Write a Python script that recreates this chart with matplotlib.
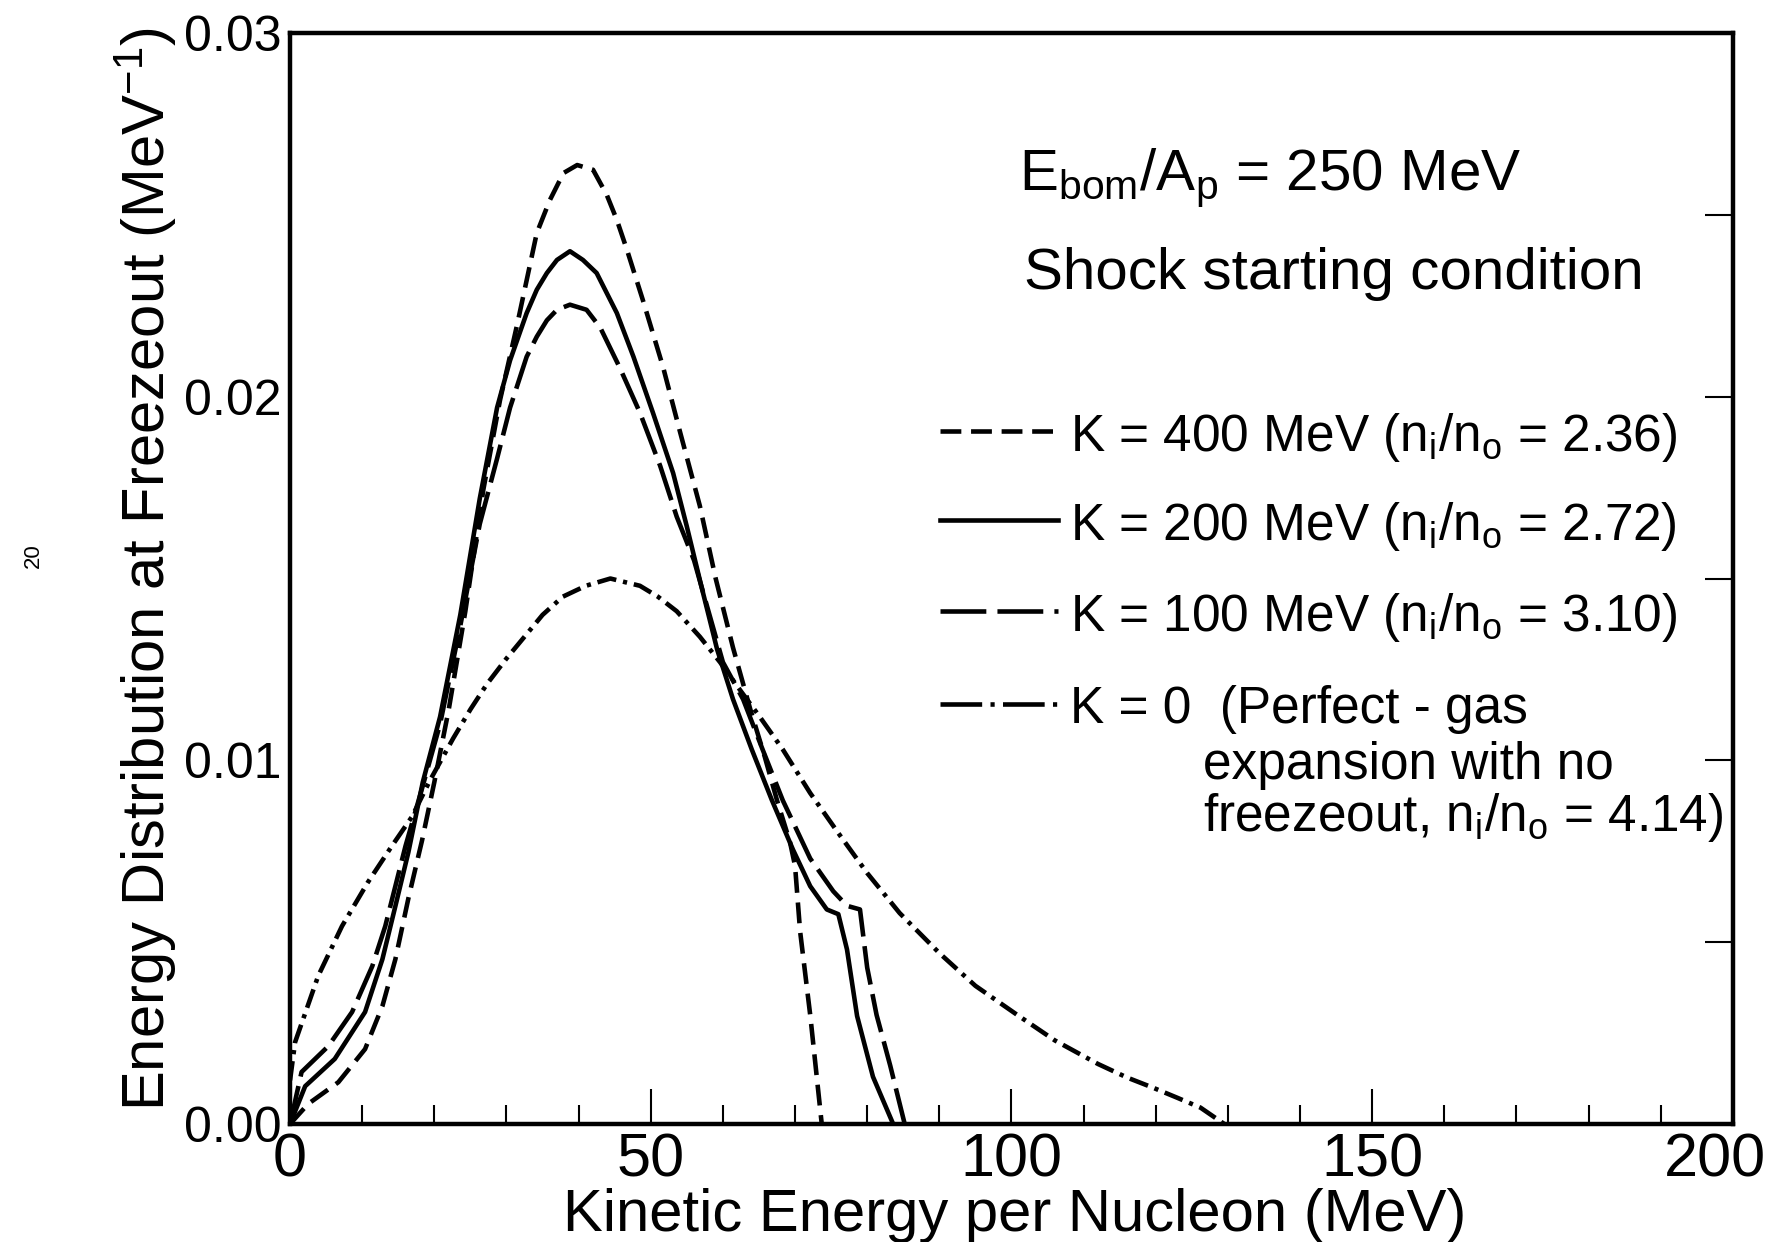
import matplotlib
matplotlib.use("Agg")
import matplotlib.pyplot as plt
from matplotlib.ticker import MultipleLocator, FormatStrFormatter
from matplotlib.transforms import ScaledTranslation

plt.rcParams['font.family'] = ['Liberation Sans', 'DejaVu Sans']
plt.rcParams['mathtext.default'] = 'regular'
plt.rcParams['lines.scale_dashes'] = False

# --- K = 400 MeV (short dashes) ---
x_k400 = [0, 2.5, 6.7, 10.4, 12.8, 14.6, 16.4, 18.3, 20.0, 22.0, 24.3, 26.8, 29.1, 31.5,
          34.2, 36.0, 37.9, 39.8, 42.0, 43.9, 45.3, 46.7, 48.9, 51.7, 54.1, 56.8, 59.0,
          61.4, 63.8, 65.8, 67.5, 69.3, 70.0, 70.7, 72.1, 73.7]
y_k400 = [0, 0.00055, 0.00115, 0.00206, 0.00324, 0.00453, 0.0062, 0.0078, 0.0094, 0.0114,
          0.0141, 0.01745, 0.0199, 0.0220, 0.0245, 0.0254, 0.02615, 0.02637, 0.02624,
          0.02555, 0.02486, 0.02404, 0.02266, 0.02082, 0.0190, 0.0170, 0.0150, 0.0131,
          0.0114, 0.0101, 0.0089, 0.00775, 0.0071, 0.0053, 0.0030, 0.0]

# --- K = 200 MeV (solid) ---
x_k200 = [0, 2.1, 6.2, 10.4, 12.8, 14.6, 16.4, 18.4, 20.8, 23.6, 26.3, 28.7, 30.5, 32.8,
          34.2, 35.6, 37.0, 38.8, 40.6, 42.5, 45.3, 47.6, 50.3, 53.1, 55.0, 57.0, 59.2,
          61.4, 64.0, 66.8, 69.7, 72.1, 74.4, 76.0, 77.2, 78.6, 80.8, 83.6]
y_k200 = [0, 0.00104, 0.00179, 0.00308, 0.00453, 0.00599, 0.00747, 0.0094, 0.0112, 0.0140,
          0.0172, 0.0197, 0.0210, 0.0223, 0.02294, 0.0234, 0.02376, 0.0240, 0.02376,
          0.0234, 0.0223, 0.0211, 0.01956, 0.0179, 0.01643, 0.0148, 0.01305, 0.01168,
          0.0103, 0.0089, 0.00755, 0.00654, 0.0059, 0.00577, 0.0048, 0.00297, 0.0013, 0.0]

# --- K = 100 MeV (long dashes) ---
x_k100 = [0, 1.6, 5.3, 8.6, 11.4, 13.2, 14.6, 16.0, 18.4, 20.8, 23.6, 26.3, 28.7, 30.5,
          32.8, 34.2, 35.6, 37.0, 38.8, 41.1, 43.0, 45.7, 48.5, 51.3, 53.6, 56.0, 58.0,
          60.0, 62.8, 65.5, 68.3, 72.1, 75.3, 77.2, 79.0, 80.0, 81.3, 83.2, 85.2]
y_k100 = [0, 0.00143, 0.00214, 0.00308, 0.00434, 0.00544, 0.00654, 0.00764, 0.0093, 0.0110,
          0.0137, 0.0165, 0.0183, 0.0197, 0.0211, 0.02165, 0.0221, 0.02239, 0.02253,
          0.02239, 0.0219, 0.0208, 0.01956, 0.0181, 0.0167, 0.0155, 0.0141, 0.0127,
          0.01168, 0.0103, 0.0089, 0.0073, 0.0064, 0.0060, 0.0059, 0.0043, 0.0030,
          0.0016, 0.0]

# --- K = 0 (dash-dot, perfect-gas expansion) ---
x_k0 = [0, 0.7, 3.9, 7.2, 10.8, 14.1, 16.9, 19.4, 22.6, 25.0, 27.3, 30.0, 32.5, 35.0,
        37.8, 41.0, 44.4, 48.5, 51.0, 53.6, 56.8, 59.6, 62.5, 65.1, 68.3, 72.1, 76.0,
        80.0, 84.5, 90.0, 95.0, 100.8, 106.0, 112.0, 116.0, 119.6, 123.0, 126.2, 129.5]
y_k0 = [0.0012, 0.00225, 0.00407, 0.00544, 0.00665, 0.00764, 0.00845, 0.00945, 0.0106,
        0.0114, 0.0121, 0.0128, 0.0134, 0.0140, 0.0145, 0.0148, 0.0150, 0.0148, 0.0145,
        0.0141, 0.0134, 0.0127, 0.0119, 0.0112, 0.0103, 0.0091, 0.0080, 0.0069, 0.0058,
        0.0047, 0.0038, 0.0030, 0.0023, 0.00165, 0.00128, 0.0010, 0.00072, 0.00045, 0.0]

x_ticks = [0, 50, 100, 150, 200]
x_ticklabels = ["0", "50", "100", "150", "200"]

series_labels = [
    "K = 400 MeV (n$_i$/n$_o$ = 2.36)",
    "K = 200 MeV (n$_i$/n$_o$ = 2.72)",
    "K = 100 MeV (n$_i$/n$_o$ = 3.10)",
    "K = 0  (Perfect - gas",
]
k0_extra_lines = ["expansion with no", "freezeout, n$_i$/n$_o$ = 4.14)"]

styles = [(0, (15, 7)), "-", (0, (28, 7)), (0, (14, 5, 3, 5))]
legend_styles = [(0, (15, 7)), "-", (0, (33, 8)), (0, (30, 6, 3, 6))]
LW = 3.3

fig = plt.figure(figsize=(17.75, 12.42), dpi=100)
ax = fig.add_axes([0.1634, 0.0950, 0.8129, 0.8784])

curves = [(x_k400, y_k400), (x_k200, y_k200), (x_k100, y_k100), (x_k0, y_k0)]
for (xs, ys), ls in zip(curves, styles):
    ax.plot(xs, ys, color="black", linestyle=ls, linewidth=LW,
            solid_joinstyle="round", dash_joinstyle="round")

ax.set_xlim(0, 200)
ax.set_ylim(0, 0.03)

# hand-drawn style legend
row_base = [0.01852, 0.01607, 0.01357, 0.01102]
for yb, ls, lab in zip(row_base, legend_styles, series_labels):
    ax.plot([90.1, 106.4], [yb + 0.00053, yb + 0.00053], color="black", linestyle=ls,
            linewidth=LW)
    ax.text(108.1, yb, lab, fontsize=37, va="baseline", ha="left")
for yb, lab in zip([0.0095, 0.00805], k0_extra_lines):
    ax.text(126.5, yb, lab, fontsize=37, va="baseline", ha="left")

ax.text(101.0, 0.02569, "E$_{bom}$/A$_p$ = 250 MeV", fontsize=42, va="baseline", ha="left")
ax.text(101.7, 0.02297, "Shock starting condition", fontsize=42, va="baseline", ha="left")

# axes decoration
for sp in ax.spines.values():
    sp.set_linewidth(3.2)
ax.set_xticks(x_ticks, labels=x_ticklabels)
ax.xaxis.set_minor_locator(MultipleLocator(10))
ax.yaxis.set_major_locator(MultipleLocator(0.01))
ax.yaxis.set_minor_locator(MultipleLocator(0.005))
ax.yaxis.set_major_formatter(FormatStrFormatter("%.2f"))
ax.tick_params(axis="x", which="major", direction="in", length=25, width=1.5,
               labelsize=44, pad=6)
ax.tick_params(axis="x", which="minor", direction="in", length=14, width=1.5)
ax.tick_params(axis="y", which="both", direction="in", left=False, right=True,
               length=20, width=1.5, labelsize=36, pad=6)

ax.set_xlabel("Kinetic Energy per Nucleon (MeV)", fontsize=43, va="center")
ax.xaxis.set_label_coords(0.5024, -0.0835)
ax.set_ylabel("Energy Distribution at Freezeout (MeV$^{-1}$)", fontsize=43, va="center")
ax.yaxis.set_label_coords(-0.1005, 0.509)

fig.text(0.019, 0.553, "20", fontsize=16, rotation=90, ha="center", va="center")

# the reference lettering keeps "200" inside the page: nudge it left
last = ax.xaxis.get_major_ticks()[-1].label1
last.set_horizontalalignment("right")
last.set_transform(last.get_transform() + ScaledTranslation(0.33, 0, fig.dpi_scale_trans))

fig.savefig("out.png", dpi=100)
